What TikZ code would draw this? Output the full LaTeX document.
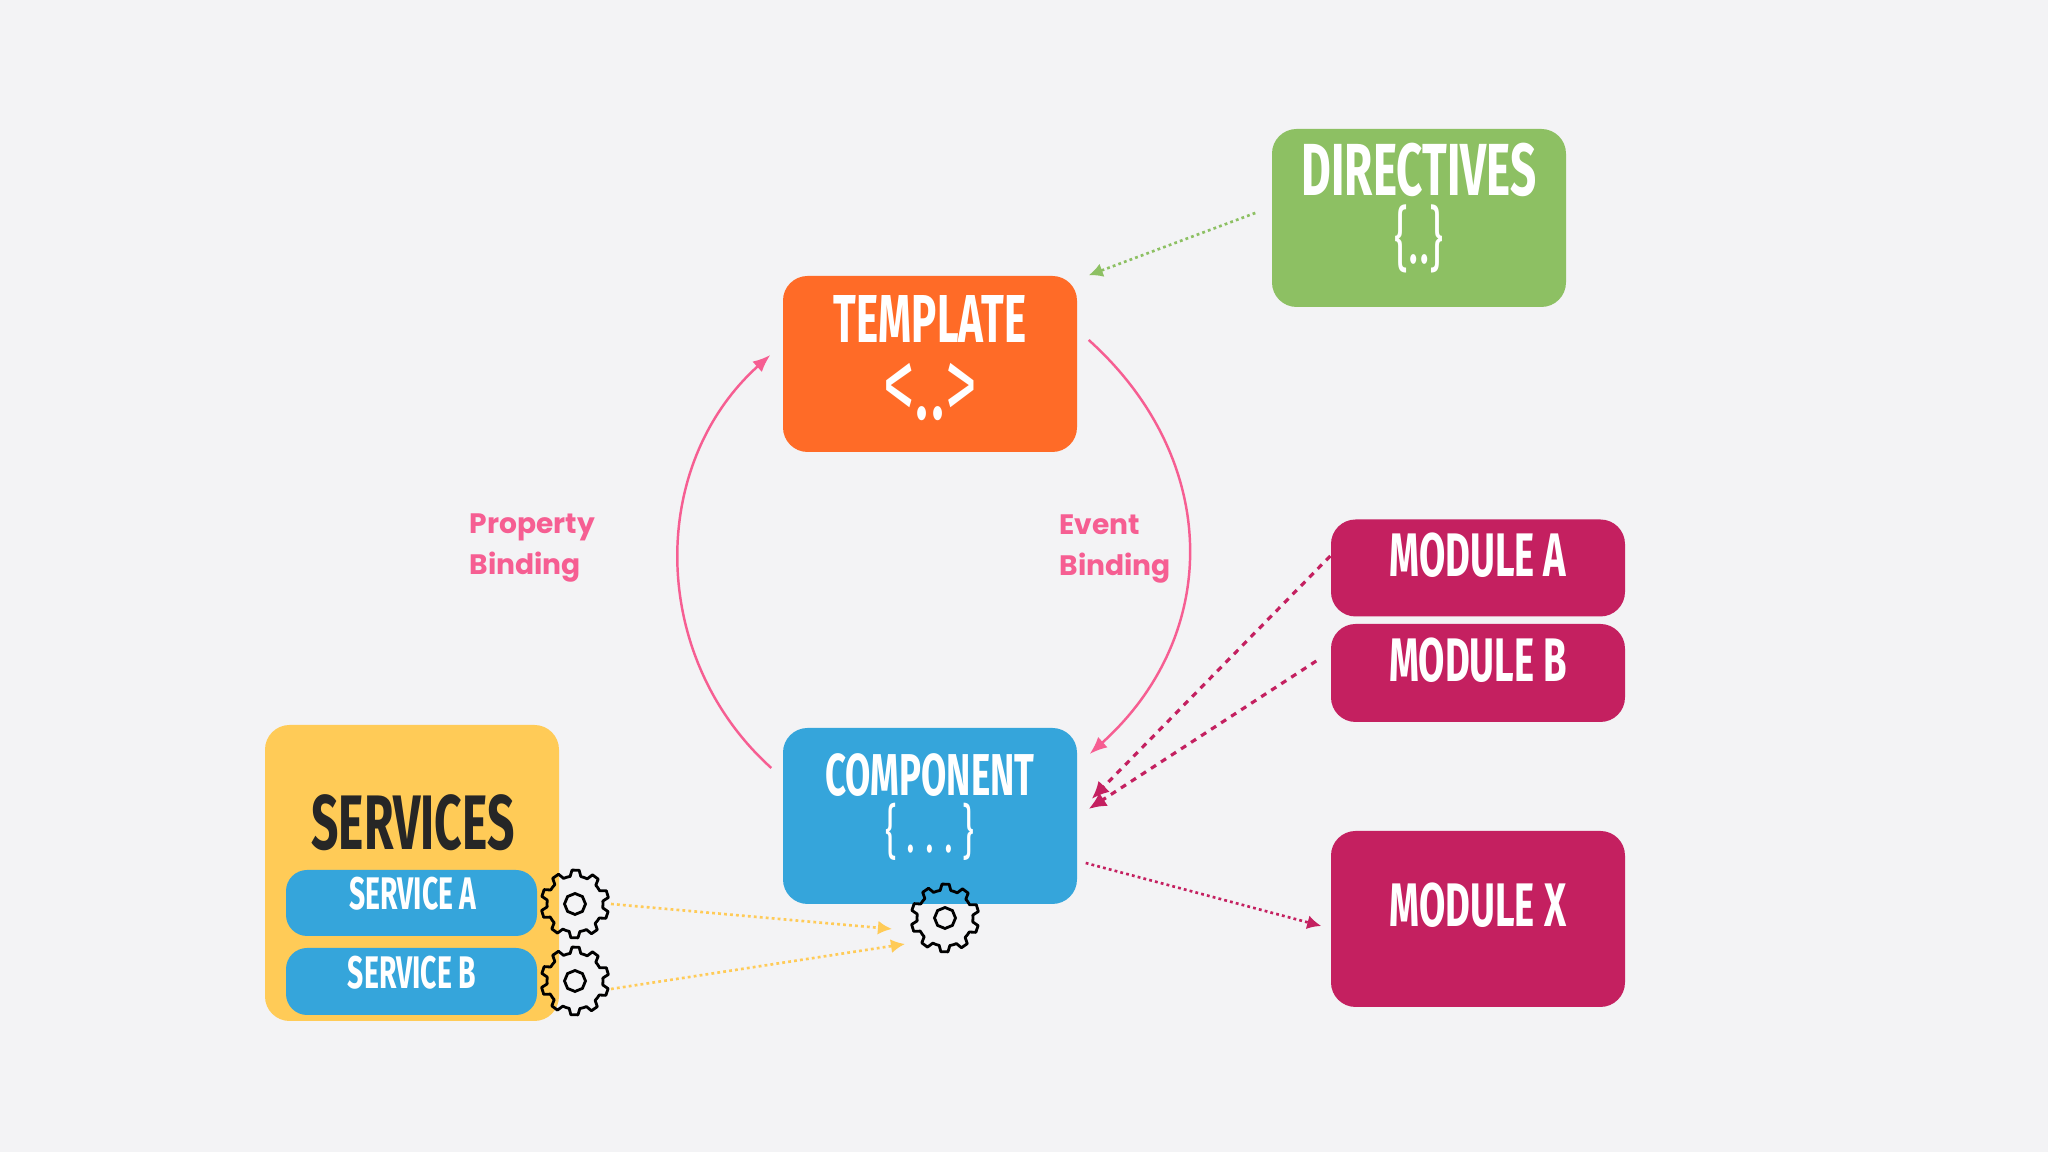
\documentclass[tikz,border=0pt]{standalone}
\usepackage{fontspec}
\usetikzlibrary{arrows.meta}
\newfontfamily\dinfont[FakeStretch=0.62]{Fira Sans}
\newfontfamily\bindfont{Poppins}
\definecolor{fondo}{HTML}{F3F3F5}
\definecolor{naranja}{HTML}{FF6B27}
\definecolor{verde}{HTML}{8DC063}
\definecolor{azul}{HTML}{35A5DB}
\definecolor{modulo}{HTML}{C42060}
\definecolor{amarillo}{HTML}{FFCB57}
\definecolor{rosa}{HTML}{F65E92}
\tikzset{
  gear/.pic={
    \draw[line width=0.8pt,line join=round] (0:.28)
      \foreach \a in {0,36,...,324}{
        -- (\a+6:.28) -- (\a+11:.34) -- (\a+23:.34) -- (\a+28:.28) -- (\a+36:.28)
      } -- cycle;
    \draw[line width=0.8pt] (0:.105) \foreach \a in {45,90,...,315}{ -- (\a:.105)} -- cycle;
  }
}
\begin{document}
\begin{tikzpicture}[
  caja/.style={rounded corners=7pt,minimum width=2.94cm,inner sep=0pt,text=white},
  titulo/.style={font=\dinfont\bfseries\fontsize{17.5}{20}\selectfont,text=white,inner sep=0pt},
  codigo/.style={text=white,inner sep=0pt,text height=10pt,text depth=0pt},
  bind/.style={font=\bindfont\bfseries\fontsize{8}{11.4}\selectfont,text=rosa,align=left,inner sep=0pt},
  curva/.style={draw=rosa,line width=0.7pt,-{Latex[length=5pt,width=4pt]}},
  punteada/.style={dash pattern=on 0.8pt off 0.9pt,line width=0.75pt,-{Latex[length=4pt,width=4pt]}},
  rayada/.style={dash pattern=on 1.7pt off 1.7pt,line width=0.9pt,-{Latex[length=5pt,width=4.5pt]}}]
  \useasboundingbox[fill=fondo] (0,0) rectangle (20.48,11.52);
  % cajas
  \node[caja,fill=naranja,minimum height=1.76cm] (template) at (9.30,7.88) {};
  \node[caja,fill=verde,minimum height=1.78cm] (directives) at (14.19,9.34) {};
  \node[caja,fill=azul,minimum height=1.76cm] (component) at (9.30,3.36) {};
  \node[caja,fill=modulo,minimum height=0.97cm] (modulea) at (14.78,5.84) {};
  \node[caja,fill=modulo,minimum height=0.98cm] (moduleb) at (14.78,4.79) {};
  \node[caja,fill=modulo,minimum height=1.76cm] (modulex) at (14.78,2.33) {};
  \node[caja,fill=amarillo,minimum height=2.96cm] (services) at (4.12,2.79) {};
  \node[caja,fill=azul,minimum width=2.51cm,minimum height=0.66cm,rounded corners=6pt] (servicea) at (4.115,2.49) {};
  \node[caja,fill=azul,minimum width=2.51cm,minimum height=0.67cm,rounded corners=6pt] (serviceb) at (4.115,1.705) {};
  % textos
  \node[titulo,font=\dinfont\bfseries\fontsize{19.3}{22}\selectfont] (templatetxt) at (9.30,8.33) {TEMPLATE};
  \node[codigo,font=\dinfont\fontsize{29}{30}\selectfont] (templatecod) at (9.30,7.50) {<..>};
  \node[titulo,font=\dinfont\bfseries\fontsize{21}{24}\selectfont] (directivestxt) at (14.19,9.82) {DIRECTIVES};
  \node[titulo,font=\dinfont\fontsize{20}{24}\selectfont] (directivescod) at (14.19,9.13) {\{..\}};
  \node[titulo,font=\dinfont\bfseries\fontsize{16.8}{20}\selectfont] (componenttxt) at (9.30,3.77) {COMPONENT};
  \node[titulo,font=\dinfont\fontsize{16.8}{20}\selectfont] (componentcod) at (9.30,3.20) {\{\,.\,.\,.\,\}};
  \node[titulo] (moduleatxt) at (14.78,5.97) {MODULE A};
  \node[titulo] (modulebtxt) at (14.78,4.92) {MODULE B};
  \node[titulo] (modulextxt) at (14.78,2.47) {MODULE X};
  \node[titulo,font=\dinfont\bfseries\fontsize{22}{26}\selectfont,text=black!85] (servicestxt) at (4.13,3.29) {SERVICES};
  \node[titulo,font=\dinfont\bfseries\fontsize{13}{16}\selectfont] (serviceatxt) at (4.13,2.58) {SERVICE A};
  \node[titulo,font=\dinfont\bfseries\fontsize{13}{16}\selectfont] (servicebtxt) at (4.12,1.79) {SERVICE B};
  \node[bind,anchor=west] (propbind) at (4.69,6.04) {Property\\Binding};
  \node[bind,anchor=west] (eventbind) at (10.59,6.03) {Event\\Binding};
  % engranajes
  \coordinate (geara) at (5.75,2.48);
  \coordinate (gearb) at (5.75,1.71);
  \coordinate (gearc) at (9.45,2.34);
  \pic at (geara) {gear};
  \pic at (gearb) {gear};
  \pic at (gearc) {gear};
  % flechas
  \draw[curva] ([shift={(.11,.24)}]template.east) to[out=-42,in=42,looseness=1.1] ([shift={(.12,.62)}]component.east);
  \draw[curva] ([shift={(-.11,.48)}]component.west) to[out=138,in=-138,looseness=1.02] ([shift={(-.12,.09)}]template.west);
  \draw[punteada,draw=verde,verde] ([xshift=-.16cm,yshift=.05cm]directives.west) -- ([xshift=.11cm]template.north east);
  \draw[rayada,draw=modulo,modulo] ([yshift=.12cm]modulea.west) -- ([shift={(.14,.17)}]component.east);
  \draw[rayada,draw=modulo,modulo] ([shift={(-.14,.12)}]moduleb.west) -- ([shift={(.11,.07)}]component.east);
  \draw[punteada,draw=modulo,modulo] ([shift={(.08,-.47)}]component.east) -- ([shift={(-.09,-.07)}]modulex.west);
  \draw[punteada,draw=amarillo,amarillo] ([xshift=.36cm]geara) -- ([shift={(-.53,-.11)}]gearc);
  \draw[punteada,draw=amarillo,amarillo] ([shift={(.36,-.08)}]gearb) -- ([shift={(-.40,-.26)}]gearc);
\end{tikzpicture}
\end{document}
